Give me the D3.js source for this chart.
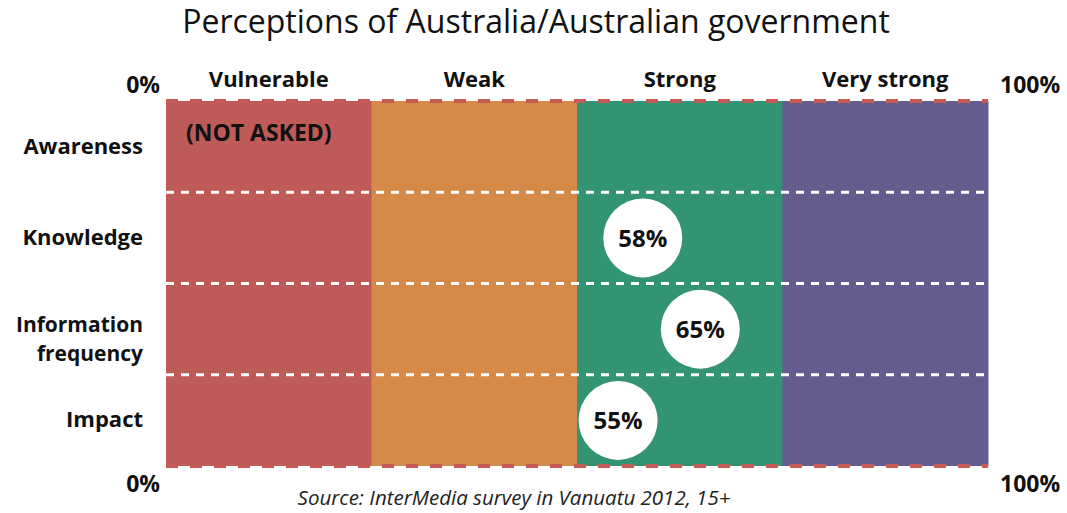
<!DOCTYPE html>
<meta charset="utf-8">
<script src="https://d3js.org/d3.v7.min.js"></script>
<style>
  body { margin: 0; background: #fff; }
  text { font-family: "Open Sans", sans-serif; }
</style>
<div id="chart"></div>
<script>
// chart data
var categories = ["Vulnerable", "Weak", "Strong", "Very strong"]
var categoryColors = ["#BE5A58", "#D58A4A", "#339473", "#645C8C"]
var rows = ["Awareness", "Knowledge", "Information frequency", "Impact"]
var rowLines = [["Awareness"], ["Knowledge"], ["Information", "frequency"], ["Impact"]]
var values = [null, 58, 65, 55]   // percent, null = not asked
var scaleTicks = ["0%", "100%"]

var width = 1067, height = 513
var margin = {top: 101, right: 79, bottom: 47, left: 166}

var svg = d3.select("#chart").append("svg")
    .attr("width", width)
    .attr("height", height)

var x = d3.scaleLinear().domain([0, 100]).range([margin.left, width - margin.right])
var band = d3.scaleBand().domain(categories).range([margin.left, width - margin.right])
var y = d3.scaleBand().domain(rows).range([margin.top, height - margin.bottom])

// title
svg.append("text")
    .attr("x", 536).attr("y", 33)
    .attr("text-anchor", "middle")
    .style("font-size", "32px")
    .style("fill", "#111")
    .text("Perceptions of Australia/Australian government")

// coloured category columns
svg.selectAll(".col")
    .data(categories)
    .enter().append("rect")
    .attr("x", d => band(d))
    .attr("y", margin.top)
    .attr("width", band.bandwidth() + 0.5)
    .attr("height", height - margin.bottom - margin.top)
    .attr("fill", (d, i) => categoryColors[i])

// column headers
svg.selectAll(".colLabel")
    .data(categories)
    .enter().append("text")
    .attr("x", d => band(d) + band.bandwidth() / 2)
    .attr("y", 87)
    .attr("text-anchor", "middle")
    .style("font-size", "22px")
    .style("font-weight", "bold")
    .style("fill", "#111")
    .text(d => d)

// white dashed separators between rows
svg.selectAll(".sep")
    .data(rows.slice(1))
    .enter().append("line")
    .attr("x1", margin.left).attr("x2", width - margin.right)
    .attr("y1", d => y(d)).attr("y2", d => y(d))
    .attr("stroke", "#fff")
    .attr("stroke-width", 3)
    .attr("stroke-dasharray", "8,7")

// red dashed top and bottom rules
svg.selectAll(".rule")
    .data([margin.top, height - margin.bottom])
    .enter().append("line")
    .attr("x1", margin.left).attr("x2", width - margin.right)
    .attr("y1", d => d).attr("y2", d => d)
    .attr("stroke", "#C55A57")
    .attr("stroke-width", 4)
    .attr("stroke-dasharray", "12,12")

// 0% / 100% labels
var tickY = [93, 492]
tickY.forEach(function(ty) {
    svg.append("text")
        .attr("x", x(0) - 6).attr("y", ty)
        .attr("text-anchor", "end")
        .style("font-size", "23px").style("font-weight", "bold").style("fill", "#111")
        .text(scaleTicks[0])
    svg.append("text")
        .attr("x", x(100) + 12).attr("y", ty)
        .attr("text-anchor", "start")
        .style("font-size", "23px").style("font-weight", "bold").style("fill", "#111")
        .text(scaleTicks[1])
})

// row labels (one text per line so the two lines sit apart)
rowLines.forEach(function(lines, i) {
    var cy = y(rows[i]) + y.bandwidth() / 2
    if (lines.length > 1) cy += 10
    lines.forEach(function(l, j) {
        svg.append("text")
            .attr("text-anchor", "end")
            .attr("x", 143)
            .attr("y", cy + 7 + (j - (lines.length - 1) / 2) * 29)
            .style("font-size", lines.length > 1 ? "21px" : "22px")
            .style("font-weight", "bold").style("fill", "#111")
            .text(l)
    })
})

// not asked note
svg.append("text")
    .attr("x", x(0) + 20).attr("y", y(rows[0]) + 40)
    .style("font-size", "23px").style("font-weight", "bold").style("fill", "#111")
    .text("(NOT ASKED)")

// value circles
var marks = values.map((v, i) => ({row: rows[i], value: v})).filter(d => d.value != null)

var g = svg.selectAll(".mark")
    .data(marks)
    .enter().append("g")
    .attr("transform", d => "translate(" + x(d.value) + "," + (y(d.row) + y.bandwidth() / 2) + ")")

g.append("circle")
    .attr("r", 39.5)
    .attr("fill", "#fff")

g.append("text")
    .attr("text-anchor", "middle")
    .attr("dy", "0.36em")
    .style("font-size", "24px").style("font-weight", "bold").style("fill", "#111")
    .text(d => d.value + "%")

// source
svg.append("text")
    .attr("x", 514).attr("y", 505)
    .attr("text-anchor", "middle")
    .style("font-size", "20.5px").style("font-style", "italic").style("fill", "#222")
    .text("Source: InterMedia survey in Vanuatu 2012, 15+")
</script>
